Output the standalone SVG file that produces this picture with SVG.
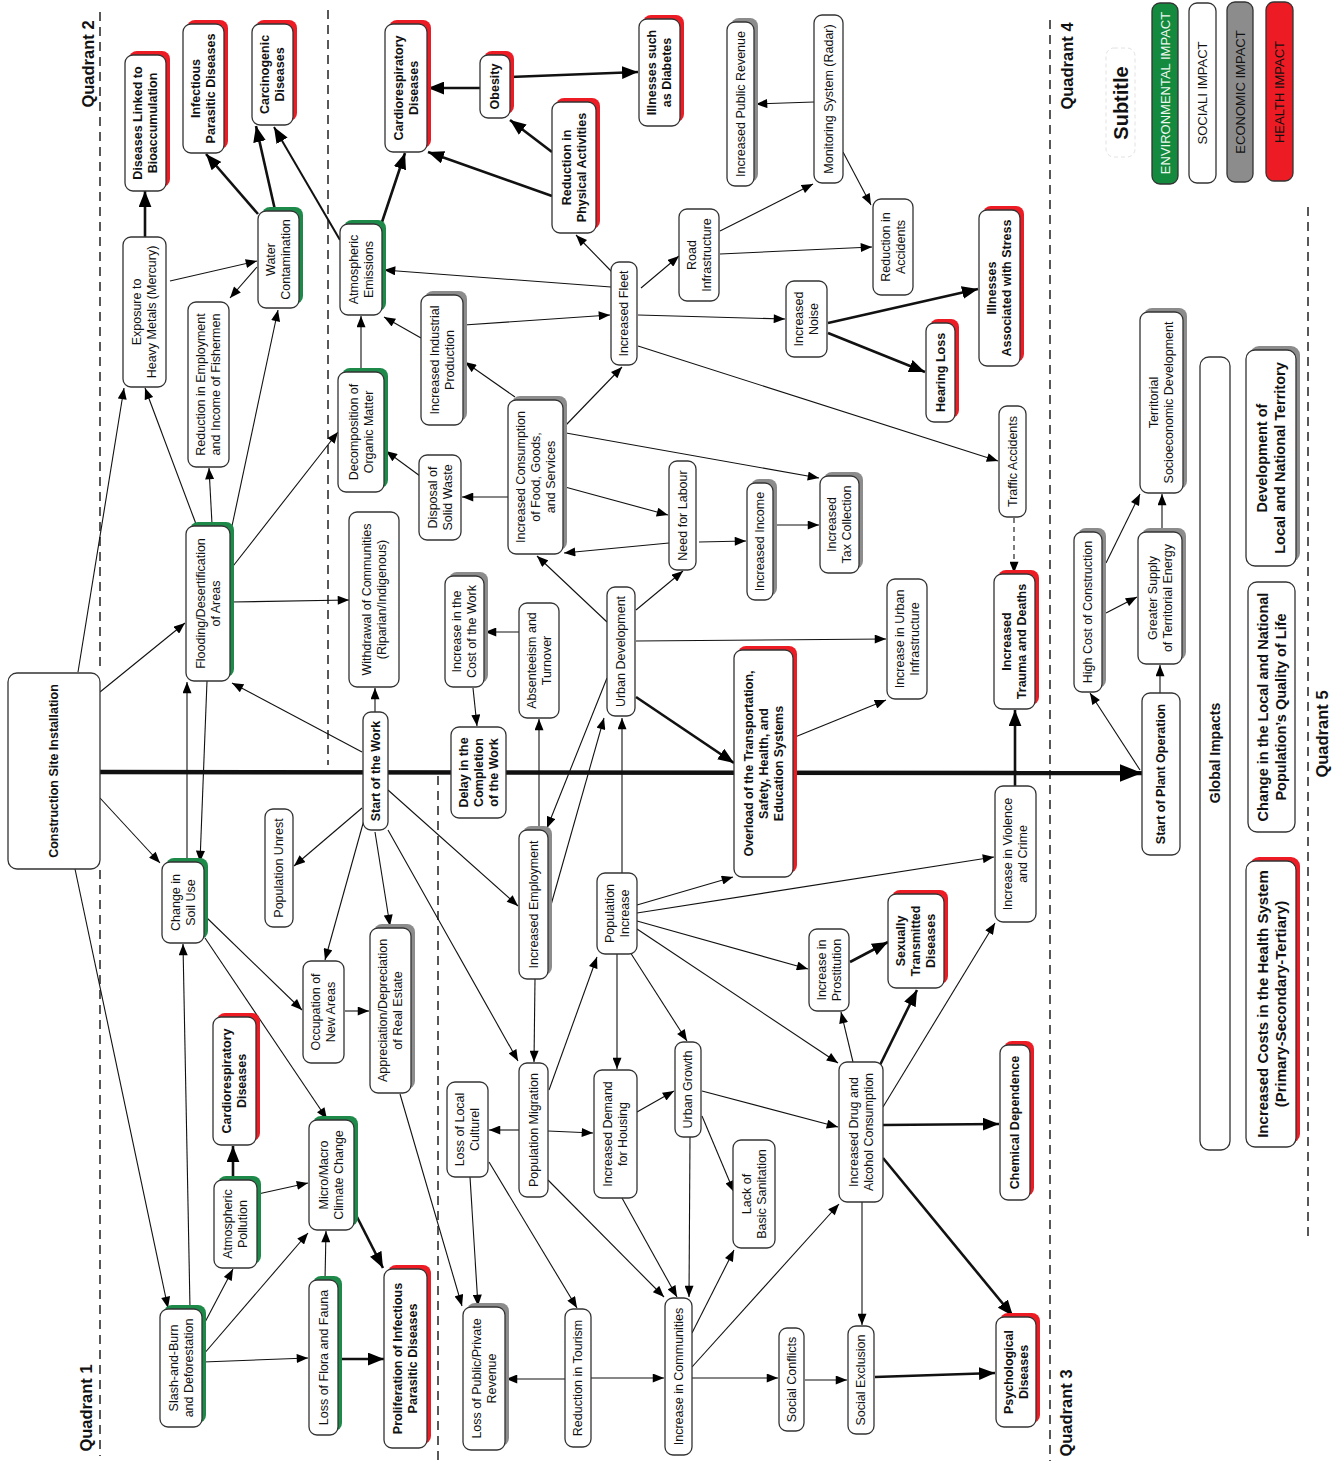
<svg xmlns="http://www.w3.org/2000/svg" width="1341" height="1465" viewBox="0 0 1341 1465">
<style>
text{font-family:"Liberation Sans",Arial,sans-serif;fill:#111;text-anchor:middle;dominant-baseline:central}
.t{font-size:12.5px}
.b{font-size:12.5px;font-weight:bold}
.b2{font-size:14.5px;font-weight:bold}
.q{font-size:16.5px;font-weight:bold}
.box{fill:#fff;stroke:#333;stroke-width:1.3}
.r{fill:#ed1c24}.g{fill:#1d8a4a}.s{fill:#8c8c8c}
.dash{stroke:#222;stroke-width:1.5;stroke-dasharray:9 6;fill:none}
#connectors line{stroke:#111;stroke-width:1.1;marker-end:url(#ah)}
#connectors line.k{stroke-width:2.6;marker-end:url(#ahk)}
#connectors line.m{stroke-width:4.5;marker-end:url(#ahm)}
#connectors line.d{stroke-dasharray:5 4}
</style>
<defs>
<marker id="ah" viewBox="0 0 10 8" refX="10" refY="4" markerWidth="12" markerHeight="9" orient="auto" markerUnits="userSpaceOnUse"><path d="M0,0L10,4L0,8z" fill="#000"/></marker>
<marker id="ahk" viewBox="0 0 10 8" refX="10" refY="4" markerWidth="16" markerHeight="13" orient="auto" markerUnits="userSpaceOnUse"><path d="M0,0L10,4L0,8z" fill="#000"/></marker>
<marker id="ahm" viewBox="0 0 10 8" refX="10" refY="4" markerWidth="22" markerHeight="20" orient="auto" markerUnits="userSpaceOnUse"><path d="M0,0L10,4L0,8z" fill="#000"/></marker>
</defs>
<rect width="1341" height="1465" fill="#fff"/>

<g id="dividers">
<line class="dash" x1="100" y1="12" x2="100" y2="672"/>
<line class="dash" x1="100" y1="870" x2="100" y2="1456"/>
<line class="dash" x1="328" y1="10" x2="328" y2="765"/>
<line class="dash" x1="438" y1="776" x2="438" y2="1462"/>
<line class="dash" x1="1050" y1="20" x2="1050" y2="1461"/>
<line class="dash" x1="1308" y1="207" x2="1308" y2="1236"/>
<text class="q" transform="translate(88,64) rotate(-90)">Quadrant 2</text>
<text class="q" transform="translate(86,1408) rotate(-90)">Quadrant 1</text>
<text class="q" transform="translate(1067,66) rotate(-90)">Quadrant 4</text>
<text class="q" transform="translate(1066,1413) rotate(-90)">Quadrant 3</text>
<text class="q" transform="translate(1322,734) rotate(-90)">Quadrant 5</text>
</g>

<g id="legend">
<rect x="1106" y="48" width="29" height="109" rx="8" fill="none" stroke="#e2e2e2" stroke-dasharray="4 3"/>
<text transform="translate(1121,103) rotate(-90)" style="font-size:20px;font-weight:bold">Subtitle</text>
<rect x="1152" y="3" width="26" height="181" rx="8" fill="#138a3e" stroke="#333" stroke-width="1.3"/>
<text class="t" transform="translate(1165,93) rotate(-90)" style="font-size:13px;fill:#eef7ee">ENVIRONMENTAL IMPACT</text>
<rect x="1189" y="3" width="27" height="180" rx="8" fill="#fff" stroke="#333" stroke-width="1.3"/>
<text class="t" transform="translate(1202.5,93) rotate(-90)" style="font-size:13px">SOCIALI IMPACT</text>
<rect x="1227" y="2" width="26" height="180" rx="8" fill="#8c8c8c" stroke="#333" stroke-width="1.3"/>
<text class="t" transform="translate(1240,92) rotate(-90)" style="font-size:13px">ECONOMIC IMPACT</text>
<rect x="1266" y="2" width="27" height="179" rx="8" fill="#ed1c24" stroke="#333" stroke-width="1.3"/>
<text class="t" transform="translate(1279.5,92) rotate(-90)" style="font-size:13px">HEALTH IMPACT</text>
</g>

<g id="connectors">
<line class="m" x1="100" y1="772" x2="1142" y2="773"/>
<line class="k" x1="145" y1="237" x2="145" y2="191"/>
<line class="k" x1="258" y1="214" x2="206" y2="154"/>
<line class="k" x1="275" y1="210" x2="256" y2="126"/>
<line class="k" x1="340" y1="240" x2="274" y2="127" style="stroke-width:2"/>
<line class="k" x1="382" y1="222" x2="405" y2="153"/>
<line class="k" x1="552" y1="152" x2="510" y2="120"/>
<line class="k" x1="552" y1="196" x2="428" y2="152"/>
<line class="k" x1="480" y1="88" x2="428" y2="88"/>
<line class="k" x1="510" y1="77" x2="638" y2="72"/>
<line class="k" x1="828" y1="323" x2="978" y2="289"/>
<line class="k" x1="828" y1="333" x2="925" y2="372"/>
<line class="k" x1="636" y1="697" x2="734" y2="763"/>
<line class="k" x1="850" y1="962" x2="888" y2="942"/>
<line class="k" x1="880" y1="1065" x2="917" y2="990"/>
<line class="k" x1="883" y1="1125" x2="999" y2="1124"/>
<line class="k" x1="883" y1="1158" x2="1013" y2="1316"/>
<line class="k" x1="875" y1="1377" x2="995" y2="1373"/>
<line class="k" x1="339" y1="1359" x2="384" y2="1359"/>
<line class="k" x1="233" y1="1179" x2="233" y2="1146"/>
<line class="k" x1="356" y1="1215" x2="383" y2="1268"/>
<line class="k" x1="1015" y1="786" x2="1015" y2="710"/>
<line x1="170" y1="281" x2="257" y2="261"/>
<line x1="257" y1="267" x2="230" y2="298"/>
<line x1="232" y1="526" x2="278" y2="310"/>
<line x1="421" y1="338" x2="384" y2="317"/>
<line x1="361" y1="371" x2="361" y2="316"/>
<line x1="611" y1="287" x2="384" y2="270"/>
<line x1="464" y1="325" x2="610" y2="315"/>
<line x1="612" y1="272" x2="576" y2="235"/>
<line x1="814" y1="102" x2="756" y2="104"/>
<line x1="720" y1="231" x2="813" y2="184"/>
<line x1="843" y1="152" x2="871" y2="205"/>
<line x1="720" y1="254" x2="872" y2="247"/>
<line x1="641" y1="288" x2="679" y2="256"/>
<line x1="638" y1="315" x2="785" y2="319"/>
<line x1="638" y1="346" x2="998" y2="461"/>
<line x1="566" y1="425" x2="622" y2="367"/>
<line x1="515" y1="397" x2="465" y2="362"/>
<line x1="508" y1="497" x2="462" y2="497"/>
<line x1="420" y1="476" x2="386" y2="451"/>
<line x1="565" y1="487" x2="668" y2="515"/>
<line x1="669" y1="543" x2="564" y2="553"/>
<line x1="699" y1="542" x2="746" y2="541"/>
<line x1="774" y1="525" x2="819" y2="525"/>
<line x1="566" y1="433" x2="819" y2="478"/>
<line x1="607" y1="622" x2="537" y2="556"/>
<line x1="636" y1="610" x2="683" y2="571"/>
<line x1="636" y1="641" x2="886" y2="639"/>
<line x1="795" y1="737" x2="886" y2="700"/>
<line x1="519" y1="632" x2="485" y2="632"/>
<line x1="473" y1="688" x2="477" y2="726"/>
<line x1="539" y1="830" x2="539" y2="719"/>
<line x1="607" y1="678" x2="547" y2="828"/>
<line x1="551" y1="905" x2="604" y2="718"/>
<line x1="622" y1="873" x2="622" y2="718"/>
<line x1="388" y1="790" x2="518" y2="906"/>
<line x1="388" y1="830" x2="518" y2="1061"/>
<line x1="535" y1="979" x2="534" y2="1062"/>
<line x1="549" y1="1090" x2="597" y2="957"/>
<line x1="637" y1="905" x2="733" y2="877"/>
<line x1="637" y1="913" x2="994" y2="857"/>
<line x1="637" y1="921" x2="808" y2="969"/>
<line x1="637" y1="929" x2="838" y2="1063"/>
<line x1="630" y1="952" x2="687" y2="1041"/>
<line x1="617" y1="954" x2="617" y2="1069"/>
<line x1="853" y1="1062" x2="841" y2="1012"/>
<line x1="883" y1="1107" x2="995" y2="923"/>
<line x1="862" y1="1202" x2="862" y2="1325"/>
<line x1="805" y1="1380" x2="847" y2="1380"/>
<line x1="692" y1="1378" x2="778" y2="1378"/>
<line x1="692" y1="1333" x2="734" y2="1250"/>
<line x1="692" y1="1367" x2="839" y2="1204"/>
<line x1="591" y1="1378" x2="664" y2="1378"/>
<line x1="565" y1="1379" x2="506" y2="1379"/>
<line x1="489" y1="1162" x2="577" y2="1308"/>
<line x1="470" y1="1177" x2="478" y2="1306"/>
<line x1="519" y1="1130" x2="489" y2="1130"/>
<line x1="548" y1="1131" x2="593" y2="1133"/>
<line x1="548" y1="1180" x2="664" y2="1297"/>
<line x1="622" y1="1198" x2="677" y2="1297"/>
<line x1="690" y1="1137" x2="689" y2="1297"/>
<line x1="702" y1="1116" x2="734" y2="1192"/>
<line x1="637" y1="1112" x2="674" y2="1091"/>
<line x1="702" y1="1091" x2="838" y2="1127"/>
<line x1="375" y1="832" x2="390" y2="926"/>
<line x1="364" y1="820" x2="325" y2="960"/>
<line x1="362" y1="808" x2="294" y2="866"/>
<line x1="375" y1="712" x2="375" y2="688"/>
<line x1="362" y1="752" x2="232" y2="683"/>
<line x1="345" y1="1011" x2="369" y2="1011"/>
<line x1="206" y1="917" x2="302" y2="1010"/>
<line x1="205" y1="938" x2="327" y2="1119"/>
<line x1="100" y1="798" x2="160" y2="863"/>
<line x1="75" y1="869" x2="168" y2="1308"/>
<line x1="190" y1="1308" x2="183" y2="944"/>
<line x1="187" y1="862" x2="187" y2="682"/>
<line x1="207" y1="681" x2="200" y2="862"/>
<line x1="100" y1="692" x2="185" y2="623"/>
<line x1="78" y1="672" x2="124" y2="388"/>
<line x1="196" y1="524" x2="145" y2="388"/>
<line x1="212" y1="524" x2="209" y2="468"/>
<line x1="230" y1="570" x2="338" y2="432"/>
<line x1="231" y1="602" x2="349" y2="600"/>
<line x1="203" y1="1326" x2="233" y2="1269"/>
<line x1="203" y1="1355" x2="308" y2="1233"/>
<line x1="203" y1="1362" x2="308" y2="1358"/>
<line x1="325" y1="1280" x2="326" y2="1231"/>
<line x1="258" y1="1194" x2="308" y2="1183"/>
<line x1="400" y1="1094" x2="462" y2="1306"/>
<line x1="1140" y1="770" x2="1090" y2="693"/>
<line x1="1106" y1="563" x2="1140" y2="494"/>
<line x1="1106" y1="613" x2="1137" y2="597"/>
<line x1="1162" y1="532" x2="1162" y2="494"/>
<line x1="1160" y1="693" x2="1160" y2="665"/>
<line class="d" x1="1014" y1="518" x2="1014" y2="573"/>
</g>

<g id="nodes">
<g id="n-csi"><rect class="box" x="8" y="673" width="92" height="196" rx="9"/><text class="b" transform="translate(54,771) rotate(-90)">Construction Site Installation</text></g>
<g id="n-exposure"><rect class="box" x="123" y="237" width="43" height="150" rx="8"/><text class="t" transform="translate(144.5,312) rotate(-90)"><tspan x="0" y="-7.5">Exposure to</tspan><tspan x="0" y="7.5">Heavy Metals (Mercury)</tspan></text></g>
<g id="n-bioacc"><rect class="r" x="129" y="51" width="41" height="136" rx="8"/><rect class="box" x="125" y="55" width="41" height="136" rx="8"/><text class="b" transform="translate(145.5,123) rotate(-90)"><tspan x="0" y="-7.5">Diseases Linked to</tspan><tspan x="0" y="7.5">Bioaccumulation</tspan></text></g>
<g id="n-infect"><rect class="r" x="187" y="20" width="41" height="129" rx="8"/><rect class="box" x="183" y="24" width="41" height="129" rx="8"/><text class="b" transform="translate(203.5,88.5) rotate(-90)"><tspan x="0" y="-7.5">Infectious</tspan><tspan x="0" y="7.5">Parasitic Diseases</tspan></text></g>
<g id="n-carcino"><rect class="r" x="256" y="20" width="41" height="101" rx="8"/><rect class="box" x="252" y="24" width="41" height="101" rx="8"/><text class="b" transform="translate(272.5,74.5) rotate(-90)"><tspan x="0" y="-7.5">Carcinogenic</tspan><tspan x="0" y="7.5">Diseases</tspan></text></g>
<g id="n-water"><rect class="g" x="262" y="207" width="41" height="97" rx="8"/><rect class="box" x="258" y="211" width="41" height="97" rx="8"/><text class="t" transform="translate(278.5,259.5) rotate(-90)"><tspan x="0" y="-7.5">Water</tspan><tspan x="0" y="7.5">Contamination</tspan></text></g>
<g id="n-fishermen"><rect class="box" x="188" y="302" width="41" height="165" rx="8"/><text class="t" transform="translate(208.5,384.5) rotate(-90)"><tspan x="0" y="-7.5">Reduction in Employment</tspan><tspan x="0" y="7.5">and Income of Fishermen</tspan></text></g>
<g id="n-flooding"><rect class="g" x="190" y="522" width="44" height="155" rx="8"/><rect class="box" x="186" y="526" width="44" height="155" rx="8"/><text class="t" transform="translate(208,603.5) rotate(-90)"><tspan x="0" y="-7.5">Flooding/Desertification</tspan><tspan x="0" y="7.5">of Areas</tspan></text></g>
<g id="n-atmem"><rect class="g" x="344" y="220" width="42" height="91" rx="8"/><rect class="box" x="340" y="224" width="42" height="91" rx="8"/><text class="t" transform="translate(361,269.5) rotate(-90)"><tspan x="0" y="-7.5">Atmospheric</tspan><tspan x="0" y="7.5">Emissions</tspan></text></g>
<g id="n-cardio1"><rect class="r" x="389" y="20" width="42" height="128" rx="8"/><rect class="box" x="385" y="24" width="42" height="128" rx="8"/><text class="b" transform="translate(406,88) rotate(-90)"><tspan x="0" y="-7.5">Cardiorespiratory</tspan><tspan x="0" y="7.5">Diseases</tspan></text></g>
<g id="n-decomp"><rect class="g" x="342" y="368" width="46" height="120" rx="8"/><rect class="box" x="338" y="372" width="46" height="120" rx="8"/><text class="t" transform="translate(361,432) rotate(-90)"><tspan x="0" y="-7.5">Decomposition of</tspan><tspan x="0" y="7.5">Organic Matter</tspan></text></g>
<g id="n-industrial"><rect class="s" x="425" y="291" width="42" height="130" rx="8"/><rect class="box" x="421" y="295" width="42" height="130" rx="8"/><text class="t" transform="translate(442,360) rotate(-90)"><tspan x="0" y="-7.5">Increased Industrial</tspan><tspan x="0" y="7.5">Production</tspan></text></g>
<g id="n-withdrawal"><rect class="box" x="349" y="512" width="50" height="175" rx="8"/><text class="t" transform="translate(374,599.5) rotate(-90)"><tspan x="0" y="-7.5">Withdrawal of Communities</tspan><tspan x="0" y="7.5">(Riparian/Indigenous)</tspan></text></g>
<g id="n-disposal"><rect class="box" x="419" y="455" width="42" height="85" rx="8"/><text class="t" transform="translate(440,497.5) rotate(-90)"><tspan x="0" y="-7.5">Disposal of</tspan><tspan x="0" y="7.5">Solid Waste</tspan></text></g>
<g id="n-obesity"><rect class="r" x="484" y="51" width="30" height="63" rx="8"/><rect class="box" x="480" y="55" width="30" height="63" rx="8"/><text class="b" transform="translate(495,86.5) rotate(-90)">Obesity</text></g>
<g id="n-physical"><rect class="r" x="556" y="98" width="44" height="131" rx="8"/><rect class="box" x="552" y="102" width="44" height="131" rx="8"/><text class="b" transform="translate(574,167.5) rotate(-90)"><tspan x="0" y="-7.5">Reduction in</tspan><tspan x="0" y="7.5">Physical Activities</tspan></text></g>
<g id="n-diabetes"><rect class="r" x="643" y="15" width="41" height="107" rx="8"/><rect class="box" x="639" y="19" width="41" height="107" rx="8"/><text class="b" transform="translate(659.5,72.5) rotate(-90)"><tspan x="0" y="-7.5">Illnesses such</tspan><tspan x="0" y="7.5">as Diabetes</tspan></text></g>
<g id="n-pubrev"><rect class="s" x="731" y="18" width="27" height="164" rx="8"/><rect class="box" x="727" y="22" width="27" height="164" rx="8"/><text class="t" transform="translate(740.5,104) rotate(-90)">Increased Public Revenue</text></g>
<g id="n-radar"><rect class="box" x="814" y="15" width="29" height="168" rx="8"/><text class="t" transform="translate(828.5,99) rotate(-90)">Monitoring System (Radar)</text></g>
<g id="n-road"><rect class="box" x="679" y="209" width="40" height="92" rx="8"/><text class="t" transform="translate(699,255) rotate(-90)"><tspan x="0" y="-7.5">Road</tspan><tspan x="0" y="7.5">Infrastructure</tspan></text></g>
<g id="n-fleet"><rect class="box" x="611" y="262" width="26" height="103" rx="8"/><text class="t" transform="translate(624,313.5) rotate(-90)">Increased Fleet</text></g>
<g id="n-redacc"><rect class="box" x="873" y="199" width="40" height="96" rx="8"/><text class="t" transform="translate(893,247) rotate(-90)"><tspan x="0" y="-7.5">Reduction in</tspan><tspan x="0" y="7.5">Accidents</tspan></text></g>
<g id="n-noise"><rect class="box" x="786" y="281" width="41" height="76" rx="8"/><text class="t" transform="translate(806.5,319) rotate(-90)"><tspan x="0" y="-7.5">Increased</tspan><tspan x="0" y="7.5">Noise</tspan></text></g>
<g id="n-stress"><rect class="r" x="983" y="206" width="41" height="156" rx="8"/><rect class="box" x="979" y="210" width="41" height="156" rx="8"/><text class="b" transform="translate(999.5,288) rotate(-90)"><tspan x="0" y="-7.5">Illnesses</tspan><tspan x="0" y="7.5">Associated with Stress</tspan></text></g>
<g id="n-hearing"><rect class="r" x="930" y="319" width="29" height="99" rx="8"/><rect class="box" x="926" y="323" width="29" height="99" rx="8"/><text class="b" transform="translate(940.5,372.5) rotate(-90)">Hearing Loss</text></g>
<g id="n-traffic"><rect class="box" x="999" y="406" width="27" height="111" rx="8"/><text class="t" transform="translate(1012.5,461.5) rotate(-90)">Traffic Accidents</text></g>
<g id="n-trauma"><rect class="r" x="998" y="570" width="41" height="135" rx="8"/><rect class="box" x="994" y="574" width="41" height="135" rx="8"/><text class="b" transform="translate(1014.5,641.5) rotate(-90)"><tspan x="0" y="-7.5">Increased</tspan><tspan x="0" y="7.5">Trauma and Deaths</tspan></text></g>
<g id="n-consumption"><rect class="s" x="512" y="396" width="55" height="154" rx="8"/><rect class="box" x="508" y="400" width="55" height="154" rx="8"/><text class="t" transform="translate(535.5,477) rotate(-90)"><tspan x="0" y="-15">Increased Consumption</tspan><tspan x="0" y="0">of  Food, Goods,</tspan><tspan x="0" y="15">and Services</tspan></text></g>
<g id="n-labour"><rect class="box" x="669" y="461" width="27" height="109" rx="8"/><text class="t" transform="translate(682.5,515.5) rotate(-90)">Need for Labour</text></g>
<g id="n-income"><rect class="s" x="751" y="479" width="26" height="117" rx="8"/><rect class="box" x="747" y="483" width="26" height="117" rx="8"/><text class="t" transform="translate(760,541.5) rotate(-90)">Increased Income</text></g>
<g id="n-tax"><rect class="s" x="824" y="472" width="39" height="97" rx="8"/><rect class="box" x="820" y="476" width="39" height="97" rx="8"/><text class="t" transform="translate(839.5,524.5) rotate(-90)"><tspan x="0" y="-7.5">Increased</tspan><tspan x="0" y="7.5">Tax Collection</tspan></text></g>
<g id="n-costwork"><rect class="s" x="449" y="572" width="39" height="111" rx="8"/><rect class="box" x="445" y="576" width="39" height="111" rx="8"/><text class="t" transform="translate(464.5,631.5) rotate(-90)"><tspan x="0" y="-7.5">Increase in the</tspan><tspan x="0" y="7.5">Cost of the Work</tspan></text></g>
<g id="n-absent"><rect class="box" x="519" y="603" width="40" height="115" rx="8"/><text class="t" transform="translate(539,660.5) rotate(-90)"><tspan x="0" y="-7.5">Absenteeism and</tspan><tspan x="0" y="7.5">Turnover</tspan></text></g>
<g id="n-urbandev"><rect class="box" x="607" y="587" width="28" height="129" rx="8"/><text class="t" transform="translate(621,651.5) rotate(-90)">Urban Development</text></g>
<g id="n-urbinfra"><rect class="box" x="887" y="579" width="40" height="120" rx="8"/><text class="t" transform="translate(907,639) rotate(-90)"><tspan x="0" y="-7.5">Increase in Urban</tspan><tspan x="0" y="7.5">Infrastructure</tspan></text></g>
<g id="n-overload"><rect class="r" x="738" y="646" width="59" height="227" rx="8"/><rect class="box" x="734" y="650" width="59" height="227" rx="8"/><text class="b" transform="translate(763.5,763.5) rotate(-90)"><tspan x="0" y="-15">Overload of the Transportation,</tspan><tspan x="0" y="0">Safety, Health, and</tspan><tspan x="0" y="15">Education Systems</tspan></text></g>
<g id="n-startwork"><rect class="box" x="363" y="712" width="25" height="118" rx="8"/><text class="b" transform="translate(375.5,771) rotate(-90)">Start of the Work</text></g>
<g id="n-delay"><rect class="box" x="451" y="727" width="55" height="91" rx="8"/><text class="b" transform="translate(478.5,772.5) rotate(-90)"><tspan x="0" y="-15">Delay in the</tspan><tspan x="0" y="0">Completion</tspan><tspan x="0" y="15">of the Work</tspan></text></g>
<g id="n-soiluse"><rect class="g" x="166" y="858" width="42" height="81" rx="8"/><rect class="box" x="162" y="862" width="42" height="81" rx="8"/><text class="t" transform="translate(183,902.5) rotate(-90)"><tspan x="0" y="-7.5">Change in</tspan><tspan x="0" y="7.5">Soil Use</tspan></text></g>
<g id="n-unrest"><rect class="box" x="265" y="809" width="28" height="118" rx="8"/><text class="t" transform="translate(279,868) rotate(-90)">Population Unrest</text></g>
<g id="n-occupation"><rect class="box" x="303" y="961" width="41" height="102" rx="8"/><text class="t" transform="translate(323.5,1012) rotate(-90)"><tspan x="0" y="-7.5">Occupation of</tspan><tspan x="0" y="7.5">New Areas</tspan></text></g>
<g id="n-realestate"><rect class="s" x="374" y="924" width="41" height="165" rx="8"/><rect class="box" x="370" y="928" width="41" height="165" rx="8"/><text class="t" transform="translate(390.5,1010.5) rotate(-90)"><tspan x="0" y="-7.5">Appreciation/Depreciation</tspan><tspan x="0" y="7.5">of Real Estate</tspan></text></g>
<g id="n-employment"><rect class="s" x="523" y="826" width="29" height="149" rx="8"/><rect class="box" x="519" y="830" width="29" height="149" rx="8"/><text class="t" transform="translate(533.5,904.5) rotate(-90)">Increased Employment</text></g>
<g id="n-popinc"><rect class="box" x="597" y="873" width="40" height="81" rx="8"/><text class="t" transform="translate(617,913.5) rotate(-90)"><tspan x="0" y="-7.5">Population</tspan><tspan x="0" y="7.5">Increase</tspan></text></g>
<g id="n-prostitution"><rect class="box" x="809" y="929" width="40" height="82" rx="8"/><text class="t" transform="translate(829,970) rotate(-90)"><tspan x="0" y="-7.5">Increase in</tspan><tspan x="0" y="7.5">Prostitution</tspan></text></g>
<g id="n-std"><rect class="r" x="892" y="890" width="56" height="94" rx="8"/><rect class="box" x="888" y="894" width="56" height="94" rx="8"/><text class="b" transform="translate(916,941) rotate(-90)"><tspan x="0" y="-15">Sexually</tspan><tspan x="0" y="0">Transmitted</tspan><tspan x="0" y="15">Diseases</tspan></text></g>
<g id="n-violence"><rect class="box" x="995" y="786" width="41" height="136" rx="8"/><text class="t" transform="translate(1015.5,854) rotate(-90)"><tspan x="0" y="-7.5">Increase in Violence</tspan><tspan x="0" y="7.5">and Crime</tspan></text></g>
<g id="n-cardio2"><rect class="r" x="217" y="1013" width="43" height="128" rx="8"/><rect class="box" x="213" y="1017" width="43" height="128" rx="8"/><text class="b" transform="translate(234.5,1081) rotate(-90)"><tspan x="0" y="-7.5">Cardiorespiratory</tspan><tspan x="0" y="7.5">Diseases</tspan></text></g>
<g id="n-climate"><rect class="g" x="313" y="1116" width="45" height="110" rx="8"/><rect class="box" x="309" y="1120" width="45" height="110" rx="8"/><text class="t" transform="translate(331.5,1175) rotate(-90)"><tspan x="0" y="-7.5">Micro/Macro</tspan><tspan x="0" y="7.5">Climate Change</tspan></text></g>
<g id="n-atmpol"><rect class="g" x="218" y="1176" width="43" height="88" rx="8"/><rect class="box" x="214" y="1180" width="43" height="88" rx="8"/><text class="t" transform="translate(235.5,1224) rotate(-90)"><tspan x="0" y="-7.5">Atmospheric</tspan><tspan x="0" y="7.5">Pollution</tspan></text></g>
<g id="n-slash"><rect class="g" x="164" y="1305" width="42" height="118" rx="8"/><rect class="box" x="160" y="1309" width="42" height="118" rx="8"/><text class="t" transform="translate(181,1368) rotate(-90)"><tspan x="0" y="-7.5">Slash-and-Burn</tspan><tspan x="0" y="7.5">and Deforestation</tspan></text></g>
<g id="n-flora"><rect class="g" x="313" y="1276" width="29" height="155" rx="8"/><rect class="box" x="309" y="1280" width="29" height="155" rx="8"/><text class="t" transform="translate(323.5,1357.5) rotate(-90)">Loss of Flora and Fauna</text></g>
<g id="n-prolif"><rect class="r" x="388" y="1265" width="43" height="179" rx="8"/><rect class="box" x="384" y="1269" width="43" height="179" rx="8"/><text class="b" transform="translate(405.5,1358.5) rotate(-90)"><tspan x="0" y="-7.5">Proliferation of Infectious</tspan><tspan x="0" y="7.5">Parasitic Diseases</tspan></text></g>
<g id="n-pprev"><rect class="s" x="467" y="1303" width="42" height="143" rx="8"/><rect class="box" x="463" y="1307" width="42" height="143" rx="8"/><text class="t" transform="translate(484,1378.5) rotate(-90)"><tspan x="0" y="-7.5">Loss of Public/Private</tspan><tspan x="0" y="7.5">Revenue</tspan></text></g>
<g id="n-tourism"><rect class="box" x="565" y="1309" width="26" height="138" rx="8"/><text class="t" transform="translate(578,1378) rotate(-90)">Reduction in Tourism</text></g>
<g id="n-communities"><rect class="box" x="665" y="1298" width="27" height="157" rx="8"/><text class="t" transform="translate(678.5,1376.5) rotate(-90)">Increase in Communities</text></g>
<g id="n-conflicts"><rect class="box" x="779" y="1328" width="25" height="103" rx="8"/><text class="t" transform="translate(791.5,1379.5) rotate(-90)">Social Conflicts</text></g>
<g id="n-exclusion"><rect class="box" x="848" y="1326" width="26" height="108" rx="8"/><text class="t" transform="translate(861,1380) rotate(-90)">Social Exclusion</text></g>
<g id="n-psych"><rect class="r" x="1000" y="1313" width="40" height="110" rx="8"/><rect class="box" x="996" y="1317" width="40" height="110" rx="8"/><text class="b" transform="translate(1016,1372) rotate(-90)"><tspan x="0" y="-7.5">Psychological</tspan><tspan x="0" y="7.5">Diseases</tspan></text></g>
<g id="n-chemical"><rect class="r" x="1004" y="1041" width="30" height="155" rx="8"/><rect class="box" x="1000" y="1045" width="30" height="155" rx="8"/><text class="b" transform="translate(1015,1122.5) rotate(-90)">Chemical Dependence</text></g>
<g id="n-drug"><rect class="box" x="839" y="1062" width="44" height="140" rx="8"/><text class="t" transform="translate(861,1132) rotate(-90)"><tspan x="0" y="-7.5">Increased Drug and</tspan><tspan x="0" y="7.5">Alcohol Consumption</tspan></text></g>
<g id="n-sanitation"><rect class="box" x="733" y="1140" width="42" height="108" rx="8"/><text class="t" transform="translate(754,1194) rotate(-90)"><tspan x="0" y="-7.5">Lack of</tspan><tspan x="0" y="7.5">Basic Sanitation</tspan></text></g>
<g id="n-urbgrowth"><rect class="box" x="675" y="1042" width="26" height="95" rx="8"/><text class="t" transform="translate(688,1089.5) rotate(-90)">Urban Growth</text></g>
<g id="n-migration"><rect class="box" x="519" y="1063" width="29" height="134" rx="8"/><text class="t" transform="translate(533.5,1130) rotate(-90)">Population Migration</text></g>
<g id="n-housing"><rect class="box" x="594" y="1070" width="43" height="128" rx="8"/><text class="t" transform="translate(615.5,1134) rotate(-90)"><tspan x="0" y="-7.5">Increased Demand</tspan><tspan x="0" y="7.5">for Housing</tspan></text></g>
<g id="n-culture"><rect class="box" x="447" y="1082" width="41" height="95" rx="8"/><text class="t" transform="translate(467.5,1129.5) rotate(-90)"><tspan x="0" y="-7.5">Loss of Local</tspan><tspan x="0" y="7.5">Culturel</tspan></text></g>
<g id="n-highcost"><rect class="s" x="1078" y="528" width="28" height="160" rx="8"/><rect class="box" x="1074" y="532" width="28" height="160" rx="8"/><text class="t" transform="translate(1088,612) rotate(-90)">High Cost of Construction</text></g>
<g id="n-energy"><rect class="s" x="1142" y="528" width="44" height="132" rx="8"/><rect class="box" x="1138" y="532" width="44" height="132" rx="8"/><text class="t" transform="translate(1160,598) rotate(-90)"><tspan x="0" y="-7.5">Greater Supply</tspan><tspan x="0" y="7.5">of Territorial Energy</tspan></text></g>
<g id="n-territorial"><rect class="s" x="1144" y="308" width="43" height="181" rx="8"/><rect class="box" x="1140" y="312" width="43" height="181" rx="8"/><text class="t" transform="translate(1161.5,402.5) rotate(-90)"><tspan x="0" y="-7.5">Territorial</tspan><tspan x="0" y="7.5">Socioeconomic Development</tspan></text></g>
<g id="n-plant"><rect class="box" x="1142" y="693" width="38" height="162" rx="8"/><text class="b" transform="translate(1161,774) rotate(-90)">Start of Plant Operation</text></g>
<g id="n-global"><rect class="box" x="1200" y="357" width="30" height="793" rx="9"/><text class="b" transform="translate(1215,753) rotate(-90)" style="font-size:14px">Global Impacts</text></g>
<g id="n-development"><rect class="s" x="1250" y="346" width="50" height="216" rx="9"/><rect class="box" x="1246" y="350" width="50" height="216" rx="9"/><text class="b2" transform="translate(1271,458) rotate(-90)"><tspan x="0" y="-9">Development of</tspan><tspan x="0" y="9">Local and National Territory</tspan></text></g>
<g id="n-quality"><rect class="box" x="1248" y="582" width="47" height="250" rx="9"/><text class="b2" transform="translate(1271.5,707) rotate(-90)"><tspan x="0" y="-9">Change in the Local and National</tspan><tspan x="0" y="9">Population’s Quality of Life</tspan></text></g>
<g id="n-healthcost"><rect class="r" x="1250" y="857" width="50" height="286" rx="9"/><rect class="box" x="1246" y="861" width="50" height="286" rx="9"/><text class="b2" transform="translate(1271,1004) rotate(-90)" style="font-size:15px"><tspan x="0" y="-9">Increased Costs in the Health System</tspan><tspan x="0" y="9">(Primary-Secondary-Tertiary)</tspan></text></g>
</g>
</svg>
